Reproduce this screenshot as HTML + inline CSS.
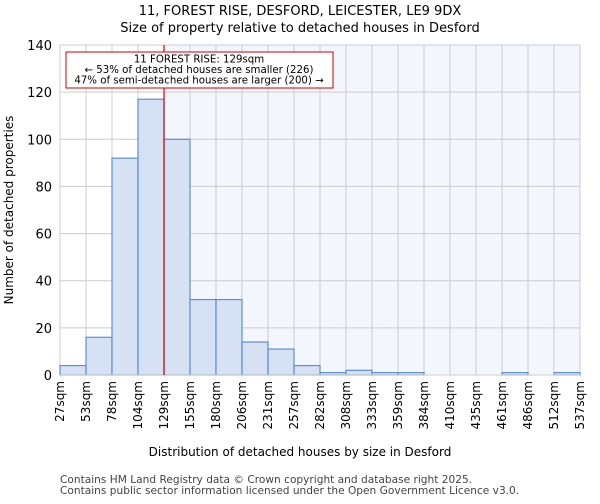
<!DOCTYPE html>
<html><head><meta charset="utf-8"><style>
body{margin:0;background:#fff;font-family:"DejaVu Sans","Liberation Sans",sans-serif;}
</style></head><body>
<svg id="c" width="600" height="500" xmlns="http://www.w3.org/2000/svg" font-family="DejaVu Sans, Liberation Sans, sans-serif">
<text x="300" y="15" text-anchor="middle" font-size="13">11, FOREST RISE, DESFORD, LEICESTER, LE9 9DX</text>
<text x="300" y="32" text-anchor="middle" font-size="13">Size of property relative to detached houses in Desford</text>
<g id="plot"></g>
<text x="300" y="456" text-anchor="middle" font-size="12">Distribution of detached houses by size in Desford</text>
<text transform="translate(13,210) rotate(-90)" text-anchor="middle" font-size="12">Number of detached properties</text>
<text x="60" y="483" font-size="10.6" fill="#444">Contains HM Land Registry data © Crown copyright and database right 2025.</text>
<text x="60" y="494" font-size="10.6" fill="#444">Contains public sector information licensed under the Open Government Licence v3.0.</text>
</svg>
<script>
const categories=["27sqm","53sqm","78sqm","104sqm","129sqm","155sqm","180sqm","206sqm","231sqm","257sqm","282sqm","308sqm","333sqm","359sqm","384sqm","410sqm","435sqm","461sqm","486sqm","512sqm","537sqm"];
const counts=[4,16,92,117,100,32,32,14,11,4,1,2,1,1,0,0,0,1,0,1];
const yTicks=[0,20,40,60,80,100,120,140];
const markerIndex=4;
const NS="http://www.w3.org/2000/svg";
const L=60,R=580,T=45,B=375,yMax=140;
const bw=(R-L)/counts.length;
const x=i=>L+i*bw;
const y=v=>B-(v/yMax)*(B-T);
const g=document.getElementById('plot');
function mk(t,a){const e=document.createElementNS(NS,t);for(const k in a)e.setAttribute(k,a[k]);g.appendChild(e);return e;}
let e=mk('rect',{x:x(markerIndex),y:T,width:R-x(markerIndex),height:B-T,fill:'#f3f6fd'});


yTicks.forEach(v=>{
 let l=mk('line',{x1:L,x2:R,y1:y(v),y2:y(v),stroke:'#ccc','stroke-width':1});
 
 
 let t=mk('text',{x:L-8,y:y(v)+5,'text-anchor':'end','font-size':13});
 t.textContent=v;
 
 
});
categories.forEach((c,i)=>{
 let l=mk('line',{x1:x(i),x2:x(i),y1:T,y2:B,stroke:'#ccc','stroke-width':1});
 
 
 let t=mk('text',{transform:`translate(${x(i)+4},${B+6}) rotate(-90)`,'text-anchor':'end','font-size':12});
 t.textContent=c;
 
 
});
counts.forEach((v,i)=>{
 let r=mk('rect',{x:x(i),y:y(v),width:bw,height:B-y(v),fill:'#d6e2f3',stroke:'#5b8fd6','stroke-width':1.2});
 
 
});
e=mk('line',{x1:L,x2:R,y1:B,y2:B,stroke:'#ccc','stroke-width':1});


e=mk('line',{x1:x(markerIndex),x2:x(markerIndex),y1:T,y2:B,stroke:'#d00','stroke-width':1.2});


e=mk('rect',{x:66,y:52,width:267,height:36,fill:'#fff',stroke:'#c00','stroke-width':1});


["11 FOREST RISE: 129sqm","← 53% of detached houses are smaller (226)","47% of semi-detached houses are larger (200) →"].forEach((s,k)=>{
 let t=mk('text',{x:199,y:62.5+k*10.5,'text-anchor':'middle','font-size':10.2});
 t.textContent=s;
 
 
});
</script>
</body></html>
